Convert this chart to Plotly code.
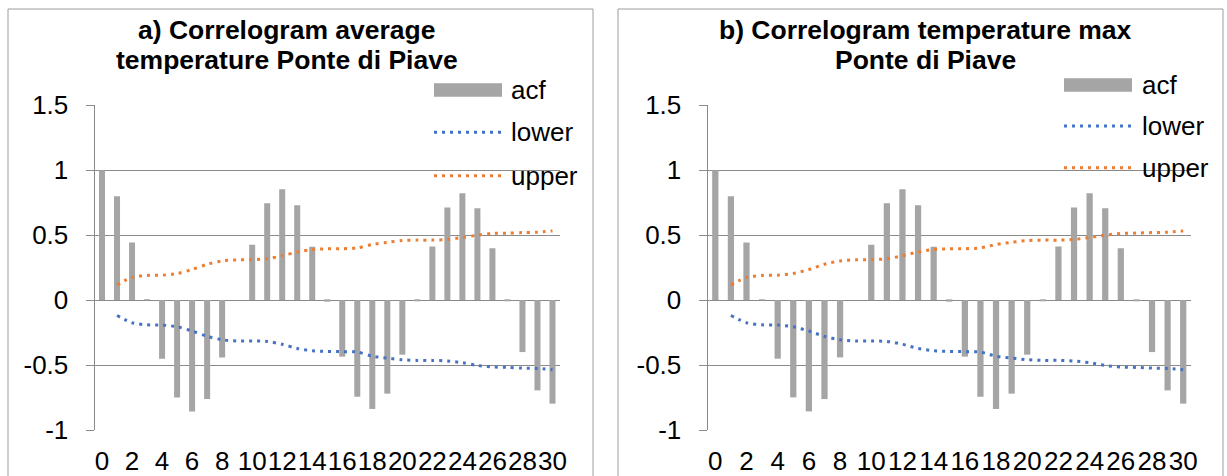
import plotly.graph_objects as go

# ---------------- data ----------------
lags = list(range(31))
tick_lags = lags[::2]
tick_text = [str(v) for v in tick_lags]

y_tick_vals = [-1, -0.5, 0, 0.5, 1, 1.5]
y_tick_text = ["-1", "-0.5", "0", "0.5", "1", "1.5"]

acf_avg = [1.0, 0.80, 0.444, 0.005, -0.451, -0.749, -0.857, -0.762, -0.441, 0.0,
           0.426, 0.746, 0.854, 0.731, 0.41, -0.012, -0.435, -0.744, -0.838, -0.72,
           -0.42, -0.004, 0.413, 0.713, 0.823, 0.708, 0.40, -0.003, -0.40, -0.695, -0.797]
upper_avg = [0.116, 0.175, 0.19, 0.192, 0.205, 0.236, 0.276, 0.302, 0.31, 0.312,
             0.318, 0.342, 0.37, 0.39, 0.395, 0.396, 0.402, 0.428, 0.445, 0.459,
             0.462, 0.462, 0.467, 0.482, 0.5, 0.514, 0.516, 0.52, 0.523, 0.533]
lower_avg = [-0.118, -0.174, -0.19, -0.192, -0.205, -0.238, -0.279, -0.305, -0.315, -0.315,
             -0.318, -0.34, -0.372, -0.39, -0.395, -0.397, -0.40, -0.432, -0.446, -0.459,
             -0.464, -0.464, -0.469, -0.482, -0.503, -0.515, -0.518, -0.523, -0.526, -0.536]

acf_max = [1.0, 0.80, 0.444, 0.005, -0.451, -0.749, -0.857, -0.762, -0.441, 0.0,
           0.426, 0.746, 0.854, 0.731, 0.41, -0.012, -0.435, -0.744, -0.838, -0.72,
           -0.42, -0.004, 0.413, 0.713, 0.823, 0.708, 0.40, -0.003, -0.40, -0.695, -0.797]
upper_max = [0.116, 0.175, 0.19, 0.192, 0.205, 0.236, 0.276, 0.302, 0.31, 0.312,
             0.318, 0.342, 0.37, 0.39, 0.395, 0.396, 0.402, 0.428, 0.445, 0.459,
             0.462, 0.462, 0.467, 0.482, 0.5, 0.514, 0.516, 0.52, 0.523, 0.533]
lower_max = [-0.118, -0.174, -0.19, -0.192, -0.205, -0.238, -0.279, -0.305, -0.315, -0.315,
             -0.318, -0.34, -0.372, -0.39, -0.395, -0.397, -0.40, -0.432, -0.446, -0.459,
             -0.464, -0.464, -0.469, -0.482, -0.503, -0.515, -0.518, -0.523, -0.526, -0.536]

titles_avg = ["a) Correlogram average", "temperature Ponte di Piave"]
titles_max = ["b) Correlogram temperature max", "Ponte di Piave"]
legend_names = ["acf", "lower", "upper"]

# ---------------- style ----------------
W, H = 1227, 476
FONT = "Liberation Sans, Arial, sans-serif"
BAR_C = "#A5A5A5"
LOW_C = "#4472C4"
UP_C = "#ED7D31"
GRID_C = "#8A8A8A"
BORDER_C = "#9C9C9C"
DASH = "3px,5px"
TICK_SIZE = 26
TITLE_SIZE = 26.5


def px(x):
    return x / W


def py(y):
    return 1 - y / H


panels = [
    dict(acf=acf_avg, up=upper_avg, low=lower_avg, title=titles_avg,
         xa="x", ya="y", xz="x3", plot=(94.5, 560), title_x=287,
         border=(8, 593), leg_x=(434, 502), leg_tx=509, leg_y=(90, 132.3, 175.7)),
    dict(acf=acf_max, up=upper_max, low=lower_max, title=titles_max,
         xa="x2", ya="y2", xz="x4", plot=(707.5, 1191), title_x=925,
         border=(618, 1223), leg_x=(1064, 1132), leg_tx=1140, leg_y=(85, 126, 167.7)),
]

PLOT_TOP, PLOT_BOT, ZERO_Y = 105.3, 430, 300
TITLE_LINES_Y = (30, 60)

fig = go.Figure()
shapes, annotations = [], []
layout_axes = {}

for i, p in enumerate(panels):
    fig.add_trace(go.Bar(x=lags, y=p["acf"], marker_color=BAR_C, marker_line_width=0,
                         xaxis=p["xa"], yaxis=p["ya"], showlegend=False, name="acf"))
    fig.add_trace(go.Scatter(x=lags[1:], y=p["low"], mode="lines", name="lower",
                             line=dict(color=LOW_C, width=3, dash=DASH, shape="spline", smoothing=0.8),
                             xaxis=p["xa"], yaxis=p["ya"], showlegend=False))
    fig.add_trace(go.Scatter(x=lags[1:], y=p["up"], mode="lines", name="upper",
                             line=dict(color=UP_C, width=3, dash=DASH, shape="spline", smoothing=0.8),
                             xaxis=p["xa"], yaxis=p["ya"], showlegend=False))

    xa_key = "xaxis" if p["xa"] == "x" else "xaxis" + p["xa"][1:]
    ya_key = "yaxis" if p["ya"] == "y" else "yaxis" + p["ya"][1:]
    xz_key = "xaxis" + p["xz"][1:]
    dom = [px(p["plot"][0]), px(p["plot"][1])]

    layout_axes[xa_key] = dict(domain=dom, anchor=p["ya"], range=[-0.5, 30.5],
                               tickvals=tick_lags, ticktext=tick_text, tickangle=0,
                               ticks="outside", ticklen=8, tickcolor="rgba(0,0,0,0)",
                               showline=False, showgrid=False, zeroline=False, automargin=False,
                               tickfont=dict(size=TICK_SIZE, color="black", family=FONT))
    layout_axes[xz_key] = dict(overlaying=p["xa"], anchor="free", position=py(ZERO_Y),
                               range=[-0.5, 30.5], tickvals=[v - 0.5 for v in lags + [31]],
                               ticks="outside", ticklen=6, tickcolor=GRID_C, tickwidth=1,
                               showline=True, linecolor=GRID_C, linewidth=1, automargin=False,
                               showticklabels=False, showgrid=False, zeroline=False)
    layout_axes[ya_key] = dict(domain=[py(PLOT_BOT), py(PLOT_TOP)], anchor=p["xa"],
                               range=[-1, 1.5], tickvals=y_tick_vals, ticktext=y_tick_text,
                               showgrid=True, gridcolor=GRID_C, gridwidth=1,
                               showline=True, linecolor=GRID_C, linewidth=1,
                               ticks="outside", ticklen=8, tickcolor=GRID_C,
                               ticklabelstandoff=12, zeroline=False, automargin=False,
                               tickfont=dict(size=TICK_SIZE, color="black", family=FONT))

    # panel border
    shapes.append(dict(type="rect", xref="paper", yref="paper",
                       x0=px(p["border"][0]), x1=px(p["border"][1]),
                       y0=py(490), y1=py(9), line=dict(color=BORDER_C, width=1),
                       fillcolor="rgba(0,0,0,0)", layer="below"))
    # title (two lines)
    for line_text, ty in zip(p["title"], TITLE_LINES_Y):
        annotations.append(dict(text="<b>" + line_text + "</b>", xref="paper", yref="paper",
                                x=px(p["title_x"]), y=py(ty), xanchor="center", yanchor="middle",
                                showarrow=False,
                                font=dict(size=TITLE_SIZE, color="black", family=FONT)))
    # legend
    lx0, lx1 = p["leg_x"]
    yb, yl, yu = p["leg_y"]
    shapes.append(dict(type="rect", xref="paper", yref="paper", x0=px(lx0), x1=px(lx1),
                       y0=py(yb + 6.7), y1=py(yb - 6.7), fillcolor=BAR_C, line=dict(width=0)))
    shapes.append(dict(type="line", xref="paper", yref="paper", x0=px(lx0), x1=px(lx1),
                       y0=py(yl), y1=py(yl), line=dict(color=LOW_C, width=3, dash=DASH)))
    shapes.append(dict(type="line", xref="paper", yref="paper", x0=px(lx0), x1=px(lx1),
                       y0=py(yu), y1=py(yu), line=dict(color=UP_C, width=3, dash=DASH)))
    for name, yy in zip(legend_names, (yb, yl, yu)):
        annotations.append(dict(text=name, xref="paper", yref="paper", x=px(p["leg_tx"]),
                                y=py(yy), xanchor="left", yanchor="middle", showarrow=False,
                                font=dict(size=TICK_SIZE, color="black", family=FONT)))

fig.update_layout(
    width=W, height=H, margin=dict(l=0, r=0, t=0, b=0, autoexpand=False),
    paper_bgcolor="white", plot_bgcolor="white",
    font=dict(family=FONT, size=TICK_SIZE, color="black"),
    bargap=0.6, showlegend=False,
    shapes=shapes, annotations=annotations,
    **layout_axes,
)

fig.write_html("out.html")
